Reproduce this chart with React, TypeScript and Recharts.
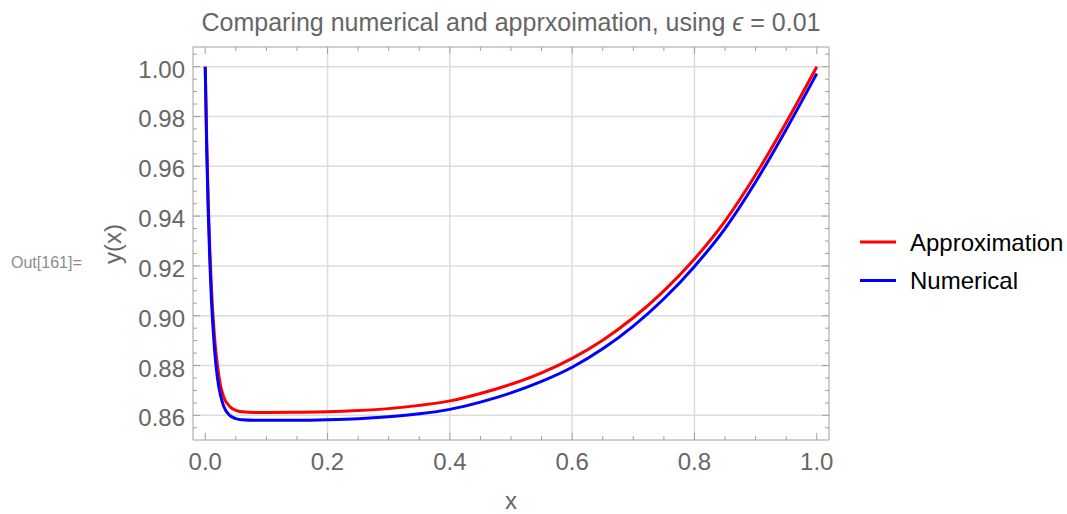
import { CartesianGrid, Line, LineChart, XAxis, YAxis } from "recharts";

// Mathematica-style framed plot: inward ticks on all four sides, grid only at major ticks.

const xs = [
  0, 0.0025, 0.005, 0.0075, 0.01, 0.0125, 0.015, 0.02, 0.025, 0.03, 0.04, 0.05, 0.06, 0.08, 0.1,
  0.15, 0.2, 0.25, 0.3, 0.35, 0.4, 0.45, 0.5, 0.55, 0.6, 0.65, 0.7, 0.75, 0.8, 0.85, 0.9, 0.95, 1.0,
];

const approximation = [
  1.0, 0.969, 0.945, 0.927, 0.912, 0.901, 0.892, 0.88, 0.872, 0.8675, 0.8636, 0.862, 0.8614,
  0.8611, 0.8611, 0.8612, 0.8614, 0.8619, 0.8627, 0.864, 0.8658, 0.8688, 0.8725, 0.8771, 0.8829,
  0.8902, 0.8992, 0.91, 0.9228, 0.938, 0.9566, 0.9776, 1.0,
];

const numerical = [
  1.0, 0.966, 0.941, 0.922, 0.907, 0.896, 0.887, 0.875, 0.868, 0.8638, 0.86, 0.8587, 0.8582,
  0.858, 0.858, 0.858, 0.8582, 0.8586, 0.8594, 0.8606, 0.8624, 0.8653, 0.869, 0.8736, 0.8793,
  0.8867, 0.8958, 0.9068, 0.9198, 0.935, 0.9537, 0.9748, 0.9972,
];

const xTicks = [
  0, 0.05, 0.1, 0.15, 0.2, 0.25, 0.3, 0.35, 0.4, 0.45, 0.5, 0.55, 0.6, 0.65, 0.7, 0.75, 0.8, 0.85,
  0.9, 0.95, 1.0,
];
const xMajor = [0, 0.2, 0.4, 0.6, 0.8, 1.0];
const xGrid = [0.2, 0.4, 0.6, 0.8];

const yTicks = [
  0.855, 0.86, 0.865, 0.87, 0.875, 0.88, 0.885, 0.89, 0.895, 0.9, 0.905, 0.91, 0.915, 0.92, 0.925,
  0.93, 0.935, 0.94, 0.945, 0.95, 0.955, 0.96, 0.965, 0.97, 0.975, 0.98, 0.985, 0.99, 0.995, 1.0,
  1.005,
];
const yMajor = [0.86, 0.88, 0.9, 0.92, 0.94, 0.96, 0.98, 1.0];

const X_DOMAIN = [-0.02, 1.02];
const Y_DOMAIN = [0.8501, 1.0079];

const FONT = "'Liberation Sans', Arial, sans-serif";
const FRAME = "#a0a0a0";
const LABEL = "#666666";
const GRID = "#dcdcdc";

const data = xs.map((x, i) => ({ x, approximation: approximation[i], numerical: numerical[i] }));

const isMajor = (list: number[], v: number) => list.some((m) => Math.abs(m - v) < 1e-9);

function BottomTick(props: any) {
  const { x, y, payload } = props;
  const major = isMajor(xMajor, payload.value);
  return (
    <g>
      <line x1={x} x2={x} y1={y} y2={y - (major ? 7 : 4)} stroke={FRAME} />
      {major && (
        <text x={x} y={y + 30} textAnchor="middle" fill={LABEL} fontSize={24} fontFamily={FONT}>
          {payload.value.toFixed(1)}
        </text>
      )}
    </g>
  );
}

function TopTick(props: any) {
  const { x, y, payload } = props;
  const major = isMajor(xMajor, payload.value);
  return <line x1={x} x2={x} y1={y} y2={y + (major ? 7 : 4)} stroke={FRAME} />;
}

function LeftTick(props: any) {
  const { x, y, payload } = props;
  const major = isMajor(yMajor, payload.value);
  return (
    <g>
      <line x1={x} x2={x + (major ? 7 : 4)} y1={y} y2={y} stroke={FRAME} />
      {major && (
        <text x={x - 8} y={y + 11} textAnchor="end" fill={LABEL} fontSize={24} fontFamily={FONT}>
          {payload.value.toFixed(2)}
        </text>
      )}
    </g>
  );
}

function RightTick(props: any) {
  const { x, y, payload } = props;
  const major = isMajor(yMajor, payload.value);
  return <line x1={x} x2={x - (major ? 7 : 4)} y1={y} y2={y} stroke={FRAME} />;
}

const legendItems = [
  { name: "Approximation", color: "#ff0000" },
  { name: "Numerical", color: "#0000ff" },
];

export default function App() {
  return (
    <div style={{ position: "absolute", left: 0, top: 0, width: 1067, height: 514, fontFamily: FONT }}>
      <LineChart width={1067} height={514} data={data} margin={{ top: 0, right: 0, bottom: 0, left: 0 }}>
        <CartesianGrid
          xAxisId="b"
          yAxisId="l"
          stroke={GRID}
          strokeWidth={1.5}
          verticalValues={xGrid}
          horizontalValues={yMajor}
        />
        <XAxis
          xAxisId="b"
          dataKey="x"
          type="number"
          domain={X_DOMAIN}
          allowDataOverflow
          ticks={xTicks}
          interval={0}
          height={74}
          tickSize={0}
          tickMargin={0}
          tickLine={false}
          axisLine={{ stroke: FRAME }}
          tick={<BottomTick />}
          label={({ viewBox }: any) => (
            <text
              x={viewBox.x + viewBox.width / 2}
              y={509}
              textAnchor="middle"
              fill={LABEL}
              fontSize={24}
              fontFamily={FONT}
            >
              x
            </text>
          )}
        />
        <XAxis
          xAxisId="t"
          orientation="top"
          dataKey="x"
          type="number"
          domain={X_DOMAIN}
          allowDataOverflow
          ticks={xTicks}
          interval={0}
          height={47}
          tickSize={0}
          tickMargin={0}
          tickLine={false}
          axisLine={{ stroke: FRAME }}
          tick={<TopTick />}
        />
        <YAxis
          yAxisId="l"
          type="number"
          domain={Y_DOMAIN}
          allowDataOverflow
          ticks={yTicks}
          interval={0}
          width={193}
          tickSize={0}
          tickMargin={0}
          tickLine={false}
          axisLine={{ stroke: FRAME }}
          tick={<LeftTick />}
          label={() => (
            <text
              x={121}
              y={244}
              transform="rotate(-90 121 244)"
              textAnchor="middle"
              fill={LABEL}
              fontSize={24}
              fontFamily={FONT}
            >
              y(x)
            </text>
          )}
        />
        <YAxis
          yAxisId="r"
          orientation="right"
          type="number"
          domain={Y_DOMAIN}
          allowDataOverflow
          ticks={yTicks}
          interval={0}
          width={238}
          tickSize={0}
          tickMargin={0}
          tickLine={false}
          axisLine={{ stroke: FRAME }}
          tick={<RightTick />}
        />
        <Line
          xAxisId="b"
          yAxisId="l"
          dataKey="approximation"
          type="monotone"
          stroke="#ff0000"
          strokeWidth={3}
          dot={false}
          isAnimationActive={false}
        />
        <Line
          xAxisId="b"
          yAxisId="l"
          dataKey="numerical"
          type="monotone"
          stroke="#0000ff"
          strokeWidth={3}
          dot={false}
          isAnimationActive={false}
        />
      </LineChart>
      <svg
        width={1067}
        height={514}
        style={{ position: "absolute", left: 0, top: 0, pointerEvents: "none" }}
      >
        <text x={511} y={31} textAnchor="middle" fill={LABEL} fontSize={25} fontFamily={FONT}>
          Comparing numerical and apprxoimation, using <tspan fontStyle="italic">ϵ</tspan> = 0.01
        </text>
        <text x={11} y={268} fill="#8c8c8c" fontSize={16} fontFamily={FONT}>
          Out[161]=
        </text>
        {legendItems.map((item, i) => (
          <g key={item.name}>
            <line x1={860} x2={896} y1={242 + i * 38.5} y2={242 + i * 38.5} stroke={item.color} strokeWidth={3} />
            <text x={910} y={250.5 + i * 38.5} fill="#000" fontSize={24} fontFamily={FONT}>
              {item.name}
            </text>
          </g>
        ))}
      </svg>
    </div>
  );
}
